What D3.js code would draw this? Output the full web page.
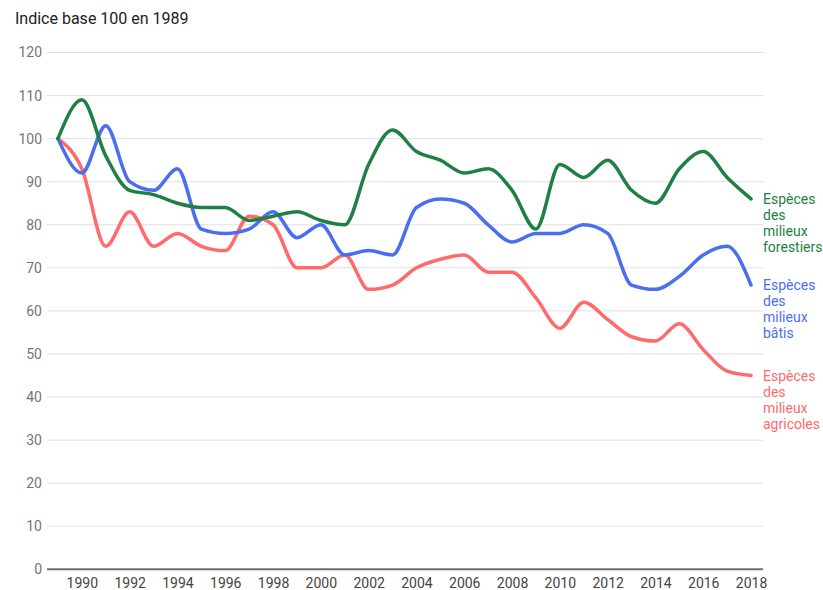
<!DOCTYPE html>
<html>
<head>
<meta charset="utf-8">
<script src="https://cdn.jsdelivr.net/npm/d3@7"></script>
<style>
  body { margin: 0; background: #fff; }
  svg { font-family: Roboto, "Noto Sans", sans-serif; }
</style>
</head>
<body>
<svg id="chart" width="823" height="590"></svg>
<script>
// data
var years = d3.range(1989, 2019);
var forestiers = [100, 109, 96, 88, 87, 85, 84, 84, 81, 82, 83, 81, 80, 94, 102,
                  97, 95, 92, 93, 88, 79, 94, 91, 95, 88, 85, 93, 97, 91, 86];
var batis = [100, 92, 103, 90, 88, 93, 79, 78, 79, 83, 77, 80, 73, 74, 73,
             84, 86, 85, 80, 76, 78, 78, 80, 78, 66, 65, 68, 73, 75, 66];
var agricoles = [100, 93, 75, 83, 75, 78, 75, 74, 82, 80, 70, 70, 73, 65, 66,
                 70, 72, 73, 69, 69, 63, 56, 62, 58, 54, 53, 57, 51, 46, 45];
var seriesNames = [["Espèces", "des", "milieux", "forestiers"],
                   ["Espèces", "des", "milieux", "bâtis"],
                   ["Espèces", "des", "milieux", "agricoles"]];
var seriesColors = ["#1e8045", "#4a6ef0", "#ff6b6b"];
var xTicks = d3.range(1990, 2019, 2);
var yTicks = d3.range(0, 121, 10);

var svg = d3.select("#chart");

var x = d3.scaleLinear().domain([1988.5, 2018.5]).range([46, 763]);
var y = d3.scaleLinear().domain([0, 120]).range([569.3, 52.5]);

// title
svg.append("text")
  .attr("x", 15)
  .attr("y", 24)
  .attr("font-size", "16px")
  .attr("fill", "#222")
  .text("Indice base 100 en 1989");

// gridlines
svg.selectAll("line.grid")
  .data(yTicks.filter(d => d > 0))
  .enter()
  .append("line")
  .attr("class", "grid")
  .attr("x1", 47)
  .attr("x2", 763)
  .attr("y1", d => y(d))
  .attr("y2", d => y(d))
  .attr("stroke", "#e0e0e0")
  .attr("stroke-width", 1);

// y axis labels
var yAxis = d3.axisLeft(y).tickValues(yTicks).tickSize(0).tickPadding(0);
var gy = svg.append("g").attr("transform", "translate(42,0)").call(yAxis);
gy.select(".domain").remove();
gy.selectAll("text")
  .attr("font-family", "Roboto, sans-serif")
  .attr("font-size", "14px")
  .attr("fill", "#757575");

// x axis labels
var xAxis = d3.axisBottom(x).tickValues(xTicks).tickFormat(d3.format("d")).tickSize(0).tickPadding(0);
var gx = svg.append("g").attr("transform", "translate(0,578)").call(xAxis);
gx.select(".domain").remove();
gx.selectAll("text")
  .attr("font-family", "Roboto, sans-serif")
  .attr("font-size", "14px")
  .attr("fill", "#444");

// baseline
svg.append("line")
  .attr("x1", 47)
  .attr("x2", 763)
  .attr("y1", y(0))
  .attr("y2", y(0))
  .attr("stroke", "#6e6e6e")
  .attr("stroke-width", 2);

// lines
var line = d3.line()
  .x((d, i) => x(years[i]))
  .y(d => y(d))
  .curve(d3.curveMonotoneX);

var allSeries = [forestiers, batis, agricoles];

// red first, green on top like the reference
[2, 1, 0].forEach(function (k) {
  svg.append("path")
    .attr("d", line(allSeries[k]))
    .attr("fill", "none")
    .attr("stroke", seriesColors[k])
    .attr("stroke-width", 3.5)
    .attr("stroke-linejoin", "round")
    .attr("stroke-linecap", "round");
});

// end labels
allSeries.forEach(function (s, k) {
  var last = s[s.length - 1];
  var t = svg.append("text")
    .attr("x", 763)
    .attr("y", y(last) + 5)
    .attr("font-size", "14px")
    .attr("fill", seriesColors[k]);
  seriesNames[k].forEach(function (w, j) {
    t.append("tspan")
      .attr("x", 763)
      .attr("dy", j == 0 ? 0 : 16)
      .text(w);
  });
});
</script>
</body>
</html>
